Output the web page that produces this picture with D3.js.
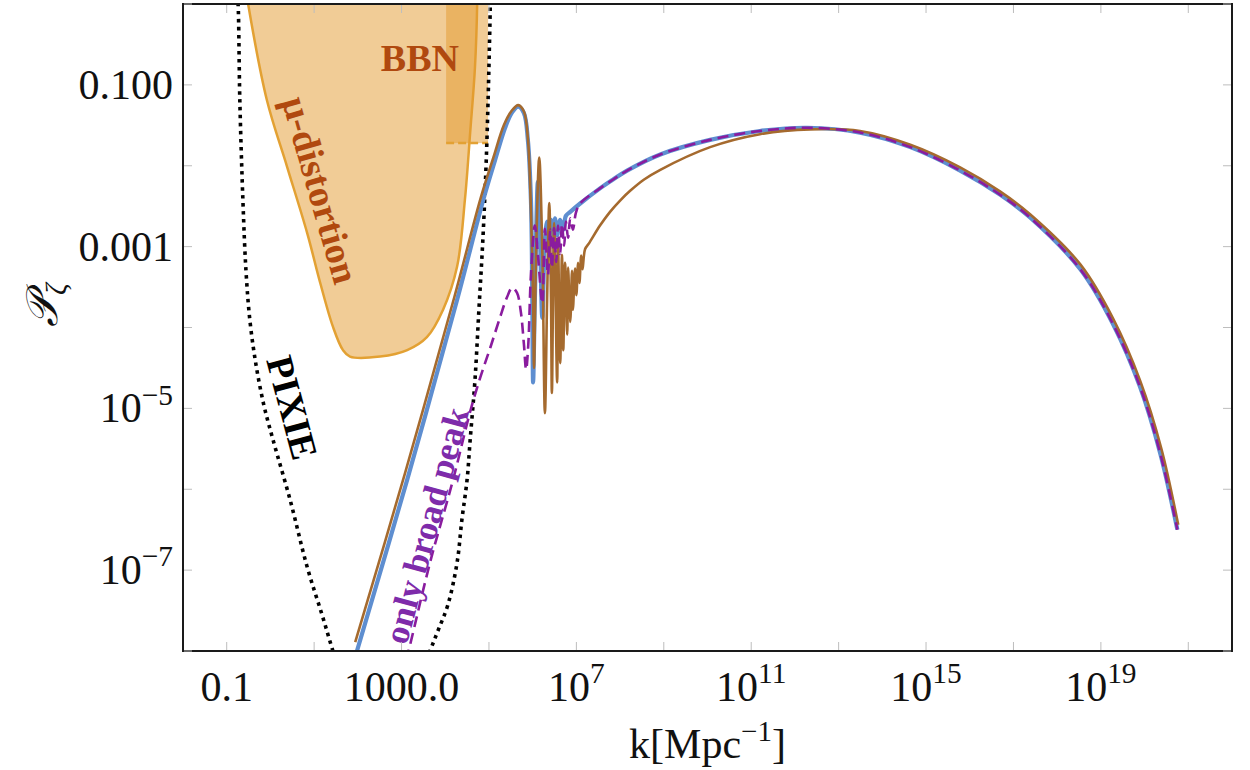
<!DOCTYPE html>
<html>
<head>
<meta charset="utf-8">
<script src="https://cdn.jsdelivr.net/npm/d3@7"></script>
<style>
  body { margin: 0; background: #fff; }
  svg { display: block; }
</style>
</head>
<body>
<svg id="chart" width="1250" height="770"></svg>
<script>
// All curve data are [log10 k (Mpc^-1), log10 P_zeta] pairs.

// Full power spectrum (blue, thick)
const spectrumBlue = [
  [1.90,-8.15],[1.98,-8.00],[3.13,-5.88],[4.27,-3.66],[4.87,-2.42],[5.14,-1.93],
  [5.37,-1.53],[5.53,-1.34],[5.67,-1.27],[5.80,-1.35],[5.89,-1.68],[5.96,-2.42],
  [5.99,-3.54],[6.01,-4.68],[6.05,-3.66],[6.12,-2.20],[6.17,-2.92],[6.22,-3.88],
  [6.28,-2.92],[6.33,-2.69],[6.38,-2.98],[6.42,-2.67],[6.47,-2.92],[6.51,-2.65],
  [6.56,-2.86],[6.63,-2.67],[6.70,-2.79],[6.76,-2.62],[6.86,-2.57],[7.08,-2.47],
  [7.54,-2.28],[7.84,-2.17],[8.16,-2.06],[8.92,-1.86],[10.06,-1.68],[11.20,-1.57],
  [12.28,-1.53],[13.49,-1.59],[14.64,-1.77],[15.78,-2.06],[16.70,-2.36],[17.38,-2.64],
  [18.53,-3.28],[19.28,-3.96],[19.90,-4.74],[20.36,-5.56],[20.75,-6.50]
];

// Spectrum with strong oscillations (brown, thin)
const spectrumBrown = [
  [1.94,-7.89],[3.08,-5.80],[4.21,-3.62],[4.81,-2.40],[5.10,-1.90],[5.34,-1.50],
  [5.52,-1.32],[5.67,-1.25],[5.80,-1.33],[5.89,-1.66],[5.96,-2.55],[6.01,-3.66],
  [6.03,-4.50],[6.08,-3.04],[6.15,-1.90],[6.22,-3.04],[6.28,-5.06],[6.33,-3.66],
  [6.38,-2.46],[6.42,-3.66],[6.44,-4.81],[6.49,-2.71],[6.56,-4.68],[6.58,-2.92],
  [6.63,-4.44],[6.67,-3.10],[6.70,-4.28],[6.74,-3.20],[6.79,-4.09],[6.81,-3.26],
  [6.86,-3.93],[6.90,-3.30],[6.92,-3.78],[6.97,-3.27],[7.00,-3.60],[7.04,-3.20],
  [7.07,-3.45],[7.11,-3.11],[7.14,-3.28],[7.20,-3.03],[7.30,-2.95],[7.54,-2.74],
  [7.77,-2.57],[8.00,-2.43],[8.23,-2.31],[8.55,-2.17],[8.92,-2.05],
  [10.06,-1.77],[11.20,-1.61],[12.35,-1.55],[13.49,-1.57],[14.64,-1.74],[15.78,-2.02],
  [16.70,-2.32],[17.38,-2.60],[18.53,-3.22],[19.28,-3.89],[19.90,-4.66],[20.38,-5.49],
  [20.77,-6.44]
];

// Spectrum from the broad peak alone (purple, dashed)
const onlyBroadPeak = [
  [3.10,-8.11],[3.15,-8.02],[3.65,-6.91],[4.18,-5.88],[4.57,-5.04],[4.80,-4.62],
  [5.03,-4.25],[5.25,-3.88],[5.41,-3.63],[5.53,-3.51],[5.64,-3.57],[5.73,-3.81],
  [5.80,-4.21],[5.85,-4.52],[5.90,-4.21],[5.96,-3.35],[6.05,-2.74],[6.12,-3.10],
  [6.22,-3.70],[6.28,-2.78],[6.35,-3.35],[6.40,-2.79],[6.44,-3.26],[6.49,-2.77],
  [6.54,-3.19],[6.58,-2.74],[6.63,-3.09],[6.67,-2.72],[6.72,-2.99],[6.76,-2.69],
  [6.81,-2.89],[6.86,-2.65],[6.92,-2.79],[6.99,-2.58],[7.08,-2.47],[7.54,-2.28],
  [7.84,-2.17],[8.16,-2.06],[8.92,-1.86],[10.06,-1.68],[11.20,-1.57],[12.28,-1.53],
  [13.49,-1.59],[14.64,-1.77],[15.78,-2.06],[16.70,-2.36],[17.38,-2.64],[18.53,-3.28],
  [19.28,-3.96],[19.90,-4.74],[20.36,-5.56],[20.75,-6.50]
];

// PIXIE sensitivity curve
const pixieCurve = [
  [-0.76,0.11],[-0.74,0.00],[-0.70,-1.19],[-0.63,-2.42],[-0.56,-3.29],[-0.47,-3.91],
  [-0.33,-4.46],[-0.15,-4.96],[0.06,-5.39],[0.45,-6.13],[0.84,-6.96],[1.18,-7.55],
  [1.43,-8.00],[1.71,-8.48],[2.55,-9.04],[3.38,-8.36],[3.65,-8.00],[3.84,-7.74],
  [4.06,-7.43],[4.27,-6.91],[4.38,-6.38],[4.50,-5.88],[4.57,-5.39],[4.68,-4.65],
  [4.77,-3.78],[4.86,-2.92],[4.93,-2.05],[4.98,-1.19],[5.03,0.00],[5.03,0.11]
];

// mu-distortion excluded region boundary
const muDistortion = [
  [-0.54,0.11],[-0.51,0.00],[-0.08,-1.19],[0.38,-2.01],[0.84,-2.83],[1.14,-3.45],
  [1.43,-3.99],[1.66,-4.28],[1.82,-4.36],[2.51,-4.36],[3.13,-4.28],[3.58,-4.12],
  [3.95,-3.78],[4.27,-3.25],[4.45,-2.42],[4.57,-1.59],[4.68,-0.78],[4.73,0.00],[4.73,0.11]
];

// BBN bound: k range and upper limit on P
const bbnLogK = [4.02, 4.98];
const bbnLogP = -1.72;

// Axis ticks (log10 values) and labels
const xTickExps = [-1, 1, 3, 5, 7, 9, 11, 13, 15, 17, 19, 21];
const xLabelExps = [-1, 3, 7, 11, 15, 19];
const xLabels = ["0.1", "1000.0", "10^7", "10^11", "10^15", "10^19"];
const yTickExps = [-8, -7, -6, -5, -4, -3, -2, -1, 0];
const yLabelExps = [-1, -3, -5, -7];
const yLabels = ["0.100", "0.001", "10^\u22125", "10^\u22127"];

// Region labels: [log10 k, log10 P, rotation]
const labelBBN = [3.42, -0.67, 0];
const labelMu = [1.15, -2.30, 74];
const labelPixie = [0.50, -4.99, 75];
const labelBroad = [3.58, -6.45, -75];

// ---------------------------------------------------------------------------
const box = { left: 183, right: 1232, top: 4, bottom: 651 };
const serif = "'Liberation Serif', 'Times New Roman', serif";

const svg = d3.select("#chart");
const x = d3.scaleLog().domain([1e-2, 1e22]).range([box.left, box.right]);
const y = d3.scaleLog().domain([1e-8, 1]).range([box.bottom, box.top]);
const X = lk => x(Math.pow(10, lk));
const Y = lp => y(Math.pow(10, lp));

svg.append("rect").attr("width", 1250).attr("height", 770).attr("fill", "#fff");

svg.append("defs").append("clipPath").attr("id", "plotClip")
  .append("rect")
  .attr("x", box.left).attr("y", box.top)
  .attr("width", box.right - box.left).attr("height", box.bottom - box.top);

const plot = svg.append("g").attr("clip-path", "url(#plotClip)");

const smooth = d3.line().x(d => X(d[0])).y(d => Y(d[1])).curve(d3.curveCatmullRom.alpha(0.5));

const orange = "#E39A2E";

// mu-distortion region
plot.append("path")
  .attr("d", smooth(muDistortion) + "Z")
  .attr("fill", orange).attr("fill-opacity", 0.5)
  .attr("stroke", "#E3A133").attr("stroke-width", 2.5);

// BBN region
plot.append("rect")
  .attr("x", X(bbnLogK[0])).attr("y", box.top - 10)
  .attr("width", X(bbnLogK[1]) - X(bbnLogK[0]))
  .attr("height", Y(bbnLogP) - box.top + 10)
  .attr("fill", orange).attr("fill-opacity", 0.5);
plot.append("line")
  .attr("x1", X(bbnLogK[0])).attr("x2", X(bbnLogK[1]))
  .attr("y1", Y(bbnLogP)).attr("y2", Y(bbnLogP))
  .attr("stroke", "#E3A133").attr("stroke-width", 2.5)
  .attr("stroke-dasharray", "8,4");

// PIXIE sensitivity
plot.append("path")
  .attr("d", smooth(pixieCurve))
  .attr("fill", "none").attr("stroke", "#000")
  .attr("stroke-width", 3.6).attr("stroke-dasharray", "3.5,4.5");

// spectra
plot.append("path")
  .attr("d", smooth(spectrumBlue))
  .attr("fill", "none").attr("stroke", "#5E8ED0").attr("stroke-width", 4.2)
  .attr("stroke-linejoin", "round");
plot.append("path")
  .attr("d", smooth(spectrumBrown))
  .attr("fill", "none").attr("stroke", "#A56A2E").attr("stroke-width", 2.6)
  .attr("stroke-linejoin", "round");
plot.append("path")
  .attr("d", smooth(onlyBroadPeak))
  .attr("fill", "none").attr("stroke", "#8A1C9E").attr("stroke-width", 2.6)
  .attr("stroke-dasharray", "11,6");

// region labels
function regionLabel(pos, text, color, size) {
  svg.append("text")
    .attr("transform", `translate(${X(pos[0])},${Y(pos[1])}) rotate(${pos[2]})`)
    .attr("text-anchor", "middle").attr("dominant-baseline", "central")
    .attr("font-family", serif).attr("font-weight", "bold")
    .attr("font-size", size).attr("fill", color)
    .text(text);
}
regionLabel(labelBBN, "BBN", "#B0490F", 38);
regionLabel(labelMu, "\u03BC-distortion", "#B0490F", 38);
regionLabel(labelPixie, "PIXIE", "#000", 38);
regionLabel(labelBroad, "only broad peak", "#7E2BAA", 35);

// frame
svg.append("rect")
  .attr("x", box.left).attr("y", box.top)
  .attr("width", box.right - box.left).attr("height", box.bottom - box.top)
  .attr("fill", "none").attr("stroke", "#1a1a1a").attr("stroke-width", 2);

// ticks
const tickColor = "#bdbdbd", tickLen = 8;
const ticks = svg.append("g").attr("stroke", tickColor).attr("stroke-width", 1);
xTickExps.forEach(e => {
  const xx = X(e);
  ticks.append("line").attr("x1", xx).attr("x2", xx).attr("y1", box.bottom - 1).attr("y2", box.bottom - 1 - tickLen);
  ticks.append("line").attr("x1", xx).attr("x2", xx).attr("y1", box.top + 1).attr("y2", box.top + 1 + tickLen);
});
yTickExps.forEach(e => {
  const yy = Y(e);
  ticks.append("line").attr("y1", yy).attr("y2", yy).attr("x1", box.left + 1).attr("x2", box.left + 1 + tickLen);
  ticks.append("line").attr("y1", yy).attr("y2", yy).attr("x1", box.right - 1).attr("x2", box.right - 1 - tickLen);
});

// label text with optional superscript, written as "base^exp"
function powerText(sel, str, size) {
  const parts = str.split("^");
  sel.append("tspan").text(parts[0]);
  if (parts.length > 1) {
    sel.append("tspan").attr("dy", -0.42 * size).attr("font-size", size * 0.7).text(parts[1]);
  }
}

const labelSize = 42;
xLabels.forEach((s, i) => {
  const t = svg.append("text")
    .attr("x", X(xLabelExps[i])).attr("y", 701)
    .attr("text-anchor", "middle")
    .attr("font-family", serif).attr("font-size", labelSize).attr("fill", "#111");
  powerText(t, s, labelSize);
});
yLabels.forEach((s, i) => {
  const t = svg.append("text")
    .attr("x", 173).attr("y", Y(yLabelExps[i]) + 14)
    .attr("text-anchor", "end")
    .attr("font-family", serif).attr("font-size", labelSize).attr("fill", "#111");
  powerText(t, s, labelSize);
});

// axis titles
const xt = svg.append("text")
  .attr("x", (box.left + box.right) / 2).attr("y", 758)
  .attr("text-anchor", "middle")
  .attr("font-family", serif).attr("font-size", labelSize).attr("fill", "#111");
xt.append("tspan").text("k[Mpc");
xt.append("tspan").attr("dy", -17).attr("font-size", 29).text("\u22121");
xt.append("tspan").attr("dy", 17).text("]");

const yt = svg.append("text")
  .attr("transform", "translate(57,305) rotate(-90)")
  .attr("text-anchor", "middle")
  .attr("font-family", serif).attr("font-size", 44).attr("fill", "#111");
yt.append("tspan").attr("font-style", "italic").text("\uD835\uDCAB");
yt.append("tspan").attr("dy", 9).attr("font-size", 29).attr("font-style", "italic").text("\u03B6");
</script>
</body>
</html>
